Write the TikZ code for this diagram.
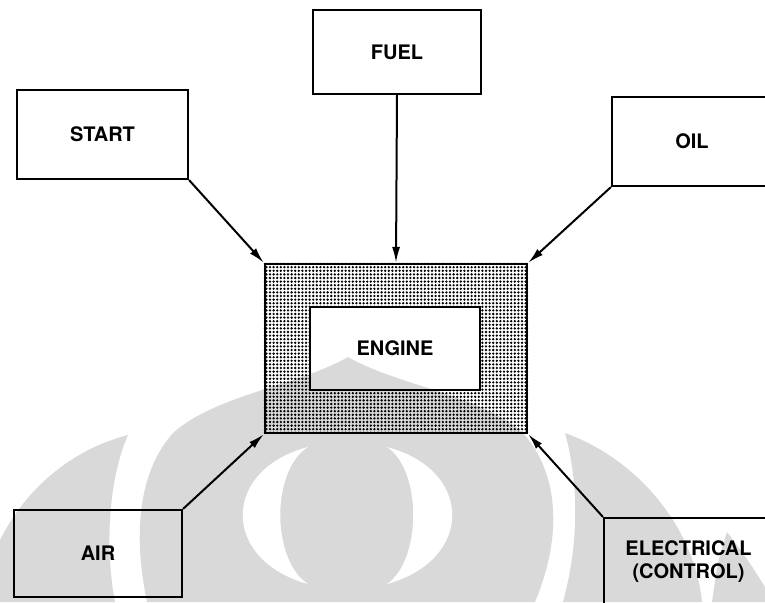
\documentclass[tikz,border=0pt]{standalone}
\usepackage{fontspec}
\setmainfont{TeX Gyre Heros}
\usetikzlibrary{patterns.meta, arrows.meta}
\definecolor{markgray}{RGB}{217,217,217}

\begin{document}
\begin{tikzpicture}[x=1pt, y=-1pt,
        box/.style={draw, line width=2.2pt, rectangle, inner sep=0pt, align=center,
            font=\fontsize{20}{23}\selectfont\bfseries},
        feed/.style={line width=2pt, -{Latex[length=16pt, width=8pt]}}]
        % Define dimensions
        \def\picwidth{765}
        \def\picheight{602}
        \useasboundingbox (0,0) rectangle (\picwidth,\picheight);
        \clip (0,0) rectangle (\picwidth,\picheight);
        % Draw the grey mark in the background
        \begin{scope}
            \fill[markgray] (128,435) .. controls (70,450) and (25,490) .. (0,540) -- (0,602)
                -- (115,602) .. controls (105,550) and (108,480) .. (128,435) -- cycle;
            \fill[markgray] (147,602) .. controls (132,530) and (140,470) .. (173,433)
                .. controls (215,395) and (300,385) .. (348,357)
                .. controls (396,385) and (481,395) .. (523,433)
                .. controls (556,470) and (565,530) .. (535,602) -- cycle;
            \fill[markgray] (565,433) .. controls (640,460) and (695,530) .. (702,602)
                -- (563,602) .. controls (580,540) and (578,480) .. (565,433) -- cycle;
            \fill[markgray] (727,532) .. controls (718,560) .. (712,602) -- (765,602)
                -- (765,587) .. controls (748,560) .. (727,532) -- cycle;
            \fill[white] (308,447) .. controls (221,470) and (221,560) .. (308,584)
                .. controls (271,560) and (271,470) .. (308,447) -- cycle;
            \fill[white] (387,447) .. controls (474,470) and (474,560) .. (387,584)
                .. controls (422,560) and (422,470) .. (387,447) -- cycle;
        \end{scope}
        % Engine with its stippled frame
        \node[box, minimum width=262pt, minimum height=169pt] (engine) at (396,348.5) {};
        \node[box, minimum width=170pt, minimum height=83pt] (core) at (395,348.5) {ENGINE};
        \fill[pattern={Dots[distance=3.6pt, radius=1.3pt]}, even odd rule]
            (engine.north west) rectangle (engine.south east)
            (core.north west) rectangle (core.south east);
        \node[box, minimum width=262pt, minimum height=169pt] at (engine) {};
        \node[box, minimum width=170pt, minimum height=83pt] at (core) {};
        % Supplies round the engine
        \node[box, minimum width=171pt, minimum height=89pt] (start) at (102.5,134.5) {START};
        \node[box, minimum width=168pt, minimum height=84pt] (fuel) at (397,52) {FUEL};
        \node[box, minimum width=160pt, minimum height=89pt] (oil) at (692,141.5) {OIL};
        \node[box, minimum width=168pt, minimum height=87pt] (air) at (98,553.5) {AIR};
        \node[box, minimum width=169pt, minimum height=87pt] (elec) at (688.5,561.5) {ELECTRICAL\\(CONTROL)};
        % Arrows into the engine
        \draw[feed] (start.south east) -- (engine.north west);
        \draw[feed] (fuel.south) -- (engine.north);
        \draw[feed] (oil.south west) -- (engine.north east);
        \draw[feed] (air.north east) -- (engine.south west);
        \draw[feed] (elec.north west) -- (engine.south east);
    \end{tikzpicture}
\end{document}
